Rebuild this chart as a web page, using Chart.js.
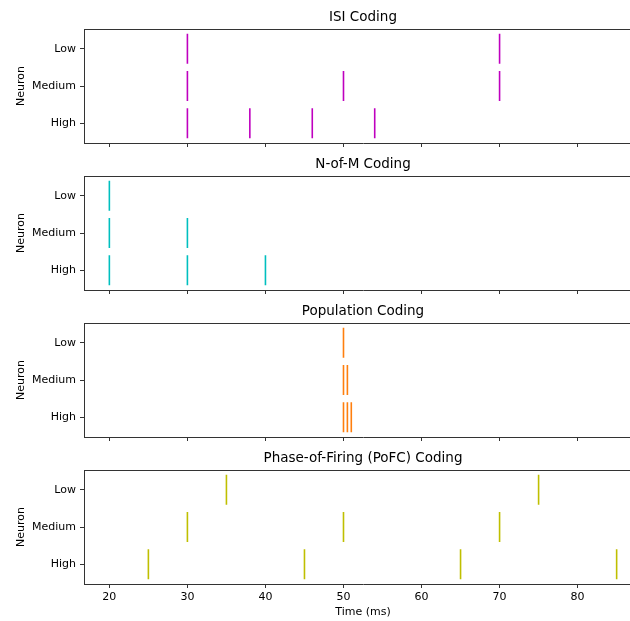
<!DOCTYPE html>
<html>
<head>
<meta charset="utf-8">
<script src="https://cdn.jsdelivr.net/npm/chart.js@4.4.1/dist/chart.umd.min.js"></script>
<style>
  html, body { margin: 0; padding: 0; background: #fff; overflow: hidden; }
  #wrap { position: relative; width: 630px; height: 621px; overflow: hidden; }
  .panel { position: absolute; left: 0; }
</style>
</head>
<body>
<div id="wrap"></div>
<script>
// Neuron rows, top to bottom
const neurons = ['Low', 'Medium', 'High'];
const timeTicks = [20, 30, 40, 50, 60, 70, 80];

// Spike times (ms) per neuron row, one array per row
const isiLow = [30, 70];
const isiMedium = [30, 50, 70];
const isiHigh = [30, 38, 46, 54];

const nomLow = [20];
const nomMedium = [20, 30];
const nomHigh = [20, 30, 40];

const popLow = [50];
const popMedium = [50, 50.5];
const popHigh = [50, 50.5, 51];

const pofcLow = [35, 75];
const pofcMedium = [30, 50, 70];
const pofcHigh = [25, 45, 65, 85];

const panelTitles = ['ISI Coding', 'N-of-M Coding', 'Population Coding', 'Phase-of-Firing (PoFC) Coding'];
const panelSpikes = [
    [isiLow, isiMedium, isiHigh],
    [nomLow, nomMedium, nomHigh],
    [popLow, popMedium, popHigh],
    [pofcLow, pofcMedium, pofcHigh]
];
const panelColors = ['#bf00bf', '#00bfbf', '#ff7f0e', '#bfbf00'];

const lineLength = 0.8;
const xMin = 16.75, xMax = 88.25;

Chart.defaults.font.family = '"DejaVu Sans", sans-serif';
Chart.defaults.font.size = 11;
Chart.defaults.color = '#000';

// Top spine of each axes box
const topSpine = {
    id: 'topSpine',
    afterDraw(chart) {
        const { ctx, chartArea } = chart;
        ctx.save();
        ctx.strokeStyle = '#333';
        ctx.lineWidth = 1;
        ctx.beginPath();
        const y = Math.round(chartArea.top) + 0.5;
        ctx.moveTo(chartArea.left, y);
        ctx.lineTo(chartArea.right, y);
        ctx.stroke();
        ctx.restore();
    }
};

const canvasWidth = 642;   // wider than the page, right edge gets cut off
const titleSpace = 29;
const areaHeight = 114;
const canvasTops = [0, 147, 294, 441];
const canvasHeights = [155, 155, 155, 180];

const wrap = document.getElementById('wrap');

panelSpikes.forEach((rows, p) => {
    const isLast = p === panelSpikes.length - 1;
    const div = document.createElement('div');
    div.className = 'panel';
    div.style.top = canvasTops[p] + 'px';
    const canvas = document.createElement('canvas');
    canvas.width = canvasWidth;
    canvas.height = canvasHeights[p];
    div.appendChild(canvas);
    wrap.appendChild(div);

    // one short vertical segment per spike
    const datasets = [];
    rows.forEach((times, r) => {
        times.forEach(t => {
            datasets.push({
                data: [{ x: t, y: r - lineLength / 2 }, { x: t, y: r + lineLength / 2 }],
                showLine: true,
                borderColor: panelColors[p],
                borderWidth: 1.6,
                pointRadius: 0,
                fill: false
            });
        });
    });

    new Chart(canvas, {
        type: 'scatter',
        data: { datasets },
        options: {
            responsive: false,
            animation: false,
            layout: { padding: 0 },
            plugins: {
                legend: { display: false },
                tooltip: { enabled: false },
                title: {
                    display: true,
                    fullSize: false,
                    text: panelTitles[p],
                    color: '#000',
                    font: { size: 13.5, weight: 'normal' },
                    padding: { top: 9.8, bottom: 3 }
                }
            },
            scales: {
                x: {
                    type: 'linear',
                    min: xMin,
                    max: xMax,
                    afterBuildTicks: s => { s.ticks = timeTicks.map(v => ({ value: v })); },
                    afterFit: s => { s.height = canvasHeights[p] - titleSpace - areaHeight; },
                    grid: { drawOnChartArea: false, drawTicks: true, tickLength: 4, color: '#333' },
                    border: { display: true, color: '#333', width: 1 },
                    ticks: { display: isLast, padding: 3, color: '#000', maxRotation: 0 },
                    title: {
                        display: isLast,
                        text: 'Time (ms)',
                        color: '#000',
                        font: { size: 11 },
                        padding: { top: 0, bottom: 2.4 }
                    }
                },
                y: {
                    type: 'linear',
                    reverse: true,
                    min: -0.53,
                    max: 2.53,
                    afterBuildTicks: s => { s.ticks = neurons.map((_, i) => ({ value: i })); },
                    afterFit: s => { s.width = 84; },
                    grid: { drawOnChartArea: false, drawTicks: true, tickLength: 4, color: '#333' },
                    border: { display: true, color: '#333', width: 1 },
                    ticks: {
                        padding: 4,
                        color: '#000',
                        callback: v => neurons[v]
                    },
                    title: {
                        display: true,
                        text: 'Neuron',
                        color: '#000',
                        font: { size: 11 },
                        padding: { top: 14.4, bottom: 0 }
                    }
                }
            }
        },
        plugins: [topSpine]
    });
});
</script>
</body>
</html>
